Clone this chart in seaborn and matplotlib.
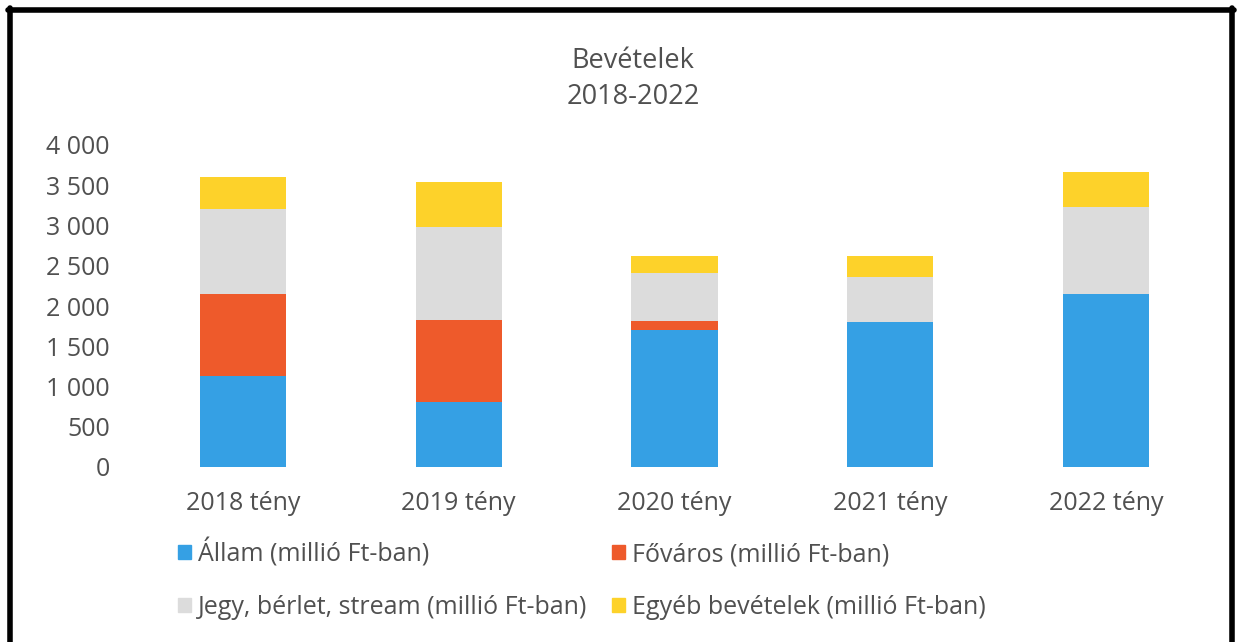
import matplotlib
matplotlib.use("Agg")
import matplotlib.pyplot as plt
import matplotlib.patches as mpatches
from matplotlib.lines import Line2D
from matplotlib.ticker import FuncFormatter
import numpy as np
import pandas as pd
import seaborn as sns

categories = ["2018 tény", "2019 tény", "2020 tény", "2021 tény", "2022 tény"]
allam = [1130, 810, 1705, 1800, 2150]
fovaros = [1015, 1015, 105, 0, 0]
jegy = [1065, 1155, 605, 560, 1085]
egyeb = [390, 560, 205, 265, 430]

series_names = ["Állam (millió Ft-ban)", "Főváros (millió Ft-ban)",
                "Jegy, bérlet, stream (millió Ft-ban)", "Egyéb bevételek (millió Ft-ban)"]
colors = ["#35A0E4", "#EE5A2B", "#DCDCDC", "#FDD22A"]
yticks = [0, 500, 1000, 1500, 2000, 2500, 3000, 3500, 4000]

sns.set_theme(style="white")
plt.rcParams["font.family"] = ["Open Sans", "DejaVu Sans"]
text_color = "#505050"
fs = 18

fig = plt.figure(figsize=(12.42, 6.42), dpi=100)
ax = fig.add_axes([135 / 1242, 175 / 642, (1214 - 135) / 1242, (497 - 175) / 642])

values = [allam, fovaros, jegy, egyeb]
cum = np.cumsum(np.array(values, dtype=float), axis=0)
df = pd.DataFrame({"cat": categories})
for i in range(4):
    df[f"c{i}"] = cum[i]

for i in reversed(range(4)):
    sns.barplot(data=df, x="cat", y=f"c{i}", color=colors[i], width=0.4,
                saturation=1, ax=ax, edgecolor="none", linewidth=0, order=categories)

ax.set_ylim(0, 4000)
ax.set_xlim(-0.5, 4.5)
ax.set_yticks(yticks)
ax.yaxis.set_major_formatter(FuncFormatter(lambda v, p: f"{int(v):,}".replace(",", " ")))
ax.set_xlabel("")
ax.set_ylabel("")
ax.tick_params(axis="y", labelsize=fs, colors=text_color, pad=18, length=0)
ax.tick_params(axis="x", labelsize=fs, colors=text_color, pad=17, length=0)
for s in ax.spines.values():
    s.set_visible(False)

fig.text(633 / 1242, 1 - 61 / 642, "Bevételek", ha="center", va="center", fontsize=19.5, color=text_color)
fig.text(633 / 1242, 1 - 97 / 642, "2018-2022", ha="center", va="center", fontsize=19.5, color=text_color)

handles = [mpatches.Patch(color=c) for c in colors]
order = [0, 2, 1, 3]
leg = fig.legend([handles[i] for i in order], [series_names[i] for i in order],
                 ncol=2, loc="upper left", bbox_to_anchor=(178 / 1242, 1 - 538 / 642),
                 frameon=False, fontsize=fs, handlelength=0.5, handleheight=0.5,
                 handletextpad=0.3, columnspacing=1.0, labelspacing=1.1,
                 borderaxespad=0, borderpad=0)
for t in leg.get_texts():
    t.set_color(text_color)

# scanned frame
lw = 4
fig.add_artist(Line2D([10 / 1242, 10 / 1242], [0, 1 - 8 / 642], color="black", lw=lw, transform=fig.transFigure))
fig.add_artist(Line2D([8 / 1242, 1234 / 1242], [1 - 10 / 642, 1 - 10 / 642], color="black", lw=lw, transform=fig.transFigure))
fig.add_artist(Line2D([1232 / 1242, 1232 / 1242], [0, 1 - 8 / 642], color="black", lw=lw, transform=fig.transFigure))

fig.savefig("out.png", dpi=100, facecolor="white")
